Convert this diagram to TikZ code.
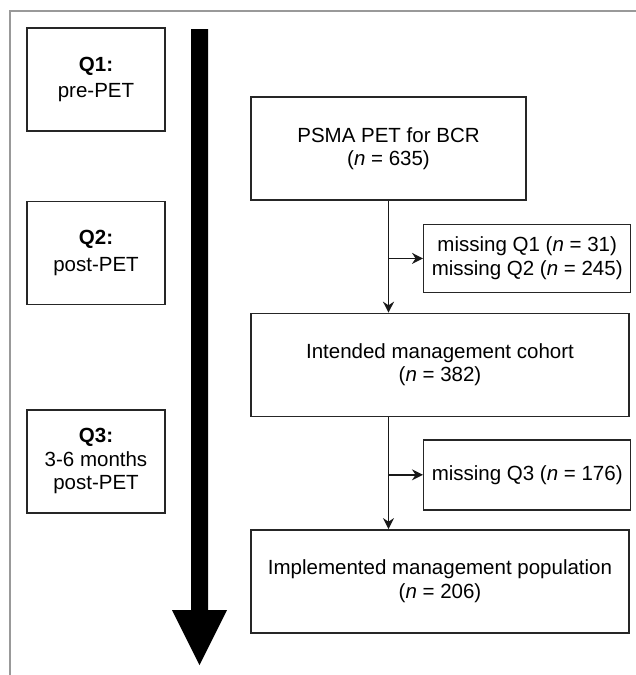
\documentclass[tikz,border=0pt]{standalone}
\usepackage{fontspec}
\setmainfont{Liberation Sans}
\usetikzlibrary{arrows.meta, positioning}

\begin{document}
\begin{tikzpicture}[
            x=1pt, y=-1pt,
            semithick,
            >={Stealth[length=11pt,width=11pt]},
            font=\fontsize{20.5}{23.5}\selectfont
        ]

        \tikzstyle{box}=[
            draw=black!85,
            line width=1.4pt,
            shape=rectangle,
            align=center,
            inner sep=0pt
        ]
        \tikzstyle{qbox}=[box, minimum width=138pt, minimum height=103pt]
        \tikzstyle{flow}=[box, minimum height=103pt]
        \tikzstyle{miss}=[box, minimum width=207pt]
        \tikzstyle{link}=[->, black!90, line width=1.4pt]

        \useasboundingbox (0,0) rectangle (636,675);
        \draw[black!40, line width=1.5pt] (10,675) -- (10,11) -- (636,11);

        % time line
        \coordinate (tstart) at (199.5,29);
        \coordinate (tend) at (199.5,665);
        \fill[black] ([shift={(-8.5,0)}]tstart) -- ([shift={(8.5,0)}]tstart)
            -- ([shift={(8.5,-55)}]tend) -- ([shift={(27.5,-55)}]tend) -- (tend)
            -- ([shift={(-27.5,-55)}]tend) -- ([shift={(-8.5,-55)}]tend) -- cycle;

		\node[qbox] (q1) at (96,79.5) {\textbf{Q1:}\\[3pt]pre-PET};
		\node[qbox] (q2) [below=69pt of q1] {\textbf{Q2:}\\[3pt]post-PET};
		\node[qbox] (q3) [below=104pt of q2] {\textbf{Q3:}\\3-6 months\\post-PET};

		\node[flow, minimum width=275pt] (psma) at (388.5,148.5) {PSMA PET for BCR\\(\textit{n} = 635)};
		\node[flow, minimum width=378pt] (cohort) [below=112pt of psma.south west, anchor=north west] {Intended management cohort\\(\textit{n} = 382)};
		\node[flow, minimum width=378pt] (impl) [below=112pt of cohort.south west, anchor=north west] {Implemented management population\\(\textit{n} = 206)};

		\node[miss, minimum height=68pt] (miss12) [below right=23pt and 34.5pt of psma.south] {missing Q1 (\textit{n} = 31)\\missing Q2 (\textit{n} = 245)};
		\coordinate (split) at (psma.south |- cohort.south);
		\node[miss, minimum height=70pt] (miss3) [below right=22pt and 34.5pt of split] {missing Q3 (\textit{n} = 176)};

        \draw[link] (psma) -- (psma.south |- cohort.north);
        \draw[link] (psma.south |- miss12) -- (miss12);
        \draw[link] (split) -- (split |- impl.north);
        \draw[link] (split |- miss3) -- (miss3);
    \end{tikzpicture}
\end{document}
